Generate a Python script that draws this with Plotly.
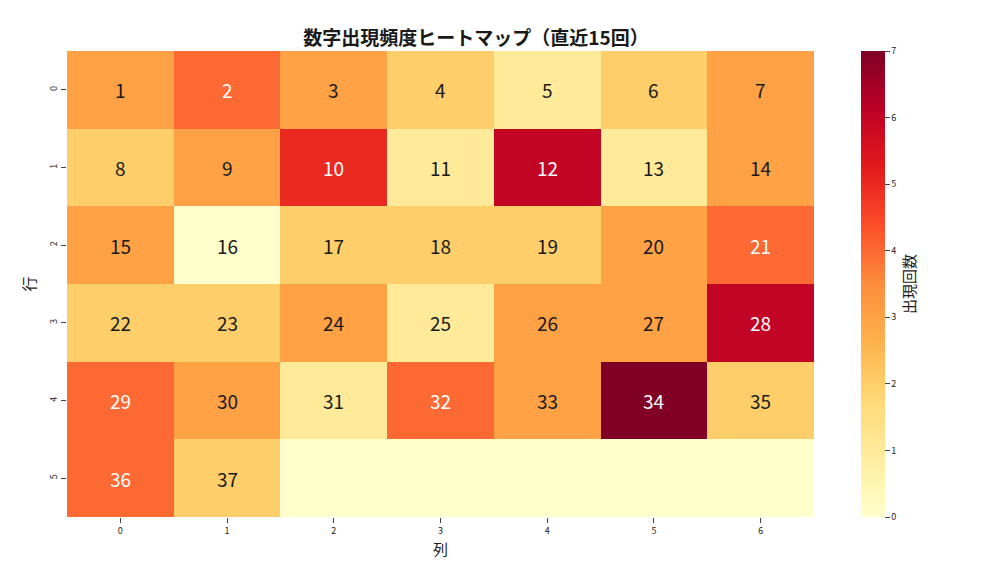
import plotly.graph_objects as go

counts = [
    [3, 4, 3, 2, 1, 2, 3],
    [2, 3, 5, 1, 6, 1, 3],
    [3, 0, 2, 2, 2, 3, 4],
    [2, 2, 3, 1, 3, 3, 6],
    [4, 3, 1, 4, 3, 7, 2],
    [4, 2, 0, 0, 0, 0, 0],
]
numbers = [
    [1, 2, 3, 4, 5, 6, 7],
    [8, 9, 10, 11, 12, 13, 14],
    [15, 16, 17, 18, 19, 20, 21],
    [22, 23, 24, 25, 26, 27, 28],
    [29, 30, 31, 32, 33, 34, 35],
    [36, 37, None, None, None, None, None],
]
cols = list(range(7))
rows = list(range(6))

ylorrd = ["#ffffcc", "#ffeda0", "#fed976", "#feb24c", "#fd8d3c",
          "#fc4e2a", "#e31a1c", "#bd0026", "#800026"]
cs = [[i / 8, c] for i, c in enumerate(ylorrd)]

fig = go.Figure(go.Heatmap(
    z=counts, x=cols, y=rows, colorscale=cs, zmin=0, zmax=7,
    colorbar=dict(title=dict(text="出現回数", side="right", font=dict(size=15)),
                  x=(853 - 59) / 818, xanchor="left", xpad=0, ypad=0, thickness=24,
                  len=1, y=0.5, tickvals=list(range(8)), tickfont=dict(size=9),
                  ticks="outside", outlinewidth=0),
    hoverinfo="skip",
))
ann = []
for r in rows:
    for c in cols:
        n = numbers[r][c]
        if n is None:
            continue
        ann.append(dict(x=c, y=r, text=str(n), showarrow=False,
                        font=dict(size=19, color="white" if counts[r][c] >= 4 else "#1a1a1a")))
fig.update_layout(
    width=1008, height=576, plot_bgcolor="white", paper_bgcolor="white",
    font=dict(family="Noto Sans CJK JP, Noto Sans, sans-serif", color="#1a1a1a"),
    title=dict(text="<b>数字出現頻度ヒートマップ（直近15回）</b>", x=0.5, xanchor="center",
               xref="paper", y=0.958, font=dict(size=19)),
    margin=dict(l=59, r=131, t=43, b=67),
    annotations=ann,
    xaxis=dict(title=dict(text="列", font=dict(size=15), standoff=8), tickvals=cols,
               domain=[0, 747 / 818], tickfont=dict(size=9), ticks="outside",
               showgrid=False, zeroline=False),
    yaxis=dict(title=dict(text="行", font=dict(size=15), standoff=8), tickvals=rows,
               autorange="reversed", tickfont=dict(size=9), tickangle=-90,
               ticks="outside", showgrid=False, zeroline=False),
)
fig.write_html("out.html")
